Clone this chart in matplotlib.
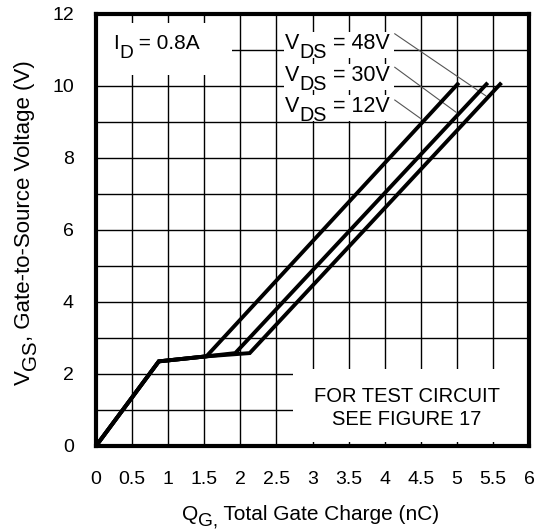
import numpy as np
import matplotlib
matplotlib.use("Agg")
import matplotlib.pyplot as plt
from matplotlib.patches import Rectangle
from matplotlib.transforms import offset_copy

plt.rcParams["font.family"] = ["Liberation Sans", "DejaVu Sans"]
plt.rcParams["xtick.labelsize"] = 14
plt.rcParams["ytick.labelsize"] = 14

# gate charge curves (Q_G in nC, V_GS in V)
qg_12v = [0.0, 0.87, 1.53, 5.01]
vgs_12v = [0.0, 2.35, 2.49, 10.05]
qg_30v = [0.0, 0.87, 1.53, 1.93, 5.41]
vgs_30v = [0.0, 2.35, 2.49, 2.58, 10.05]
qg_48v = [0.0, 0.87, 1.53, 2.13, 5.60]
vgs_48v = [0.0, 2.35, 2.49, 2.58, 10.05]

vds_values = ["48V", "30V", "12V"]
label_y = [11.03, 10.15, 9.27]
leader_start_y = [11.45, 10.52, 9.61]
leader_end = [(5.40, 9.73), (4.99, 9.27), (4.51, 9.08)]

fig = plt.figure(figsize=(5.44, 5.32), dpi=100)
ax = fig.add_axes([0.1765, 0.1617, 0.7959, 0.812])
renderer = fig.canvas.get_renderer()


def rich_text(x, y, parts, size, transform, rotation=0, drop=0.42, zorder=4):
    # parts: list of (string, is_subscript); subscripts nearly full size, lowered
    adv = 0.0
    for s, sub in parts:
        fs = size * 0.92 if sub else size
        dn = -size * drop if sub else 0.0
        if rotation == 0:
            dx, dy = adv, dn
        else:
            dx, dy = -dn, adv
        tr = offset_copy(transform, fig=fig, x=dx, y=dy, units="points")
        t = fig.text(x, y, s, fontsize=fs, transform=tr, rotation=rotation,
                     rotation_mode="anchor", ha="left", va="baseline", zorder=zorder)
        bb = t.get_window_extent(renderer)
        adv += (bb.width if rotation == 0 else bb.height) * 72 / fig.dpi


ax.set_xlim(0, 6)
ax.set_ylim(0, 12)
ax.set_xticks(np.arange(0, 6.01, 0.5))
ax.set_xticklabels(["0", "0.5", "1", "1.5", "2", "2.5", "3", "3.5", "4", "4.5", "5", "5.5", "6"])
ax.set_yticks(np.arange(0, 12.1, 2))
ax.set_yticks(np.arange(1, 12, 2), minor=True)
ax.tick_params(which="both", length=0)
ax.tick_params(axis="x", pad=18)
ax.tick_params(axis="y", pad=16)
ax.grid(True, which="both", color="black", lw=1.0, zorder=1)
ax.set_axisbelow(True)
for s in ax.spines.values():
    s.set_linewidth(3)
    s.set_zorder(10)

# white boxes hiding the grid behind the notes
ax.add_patch(Rectangle((0.02, 10.3), 1.86, 1.45, facecolor="white", edgecolor="none", zorder=2))
ax.add_patch(Rectangle((2.73, 0.1), 3.26, 2.05, facecolor="white", edgecolor="none", zorder=2))

for q, v in [(qg_12v, vgs_12v), (qg_30v, vgs_30v), (qg_48v, vgs_48v)]:
    ax.plot(q, v, color="black", lw=2.8, zorder=5, solid_joinstyle="miter")

for val, y, ys, (xe, ye) in zip(vds_values, label_y, leader_start_y, leader_end):
    ax.add_patch(Rectangle((2.6, y - 0.25), 1.53, 0.72, facecolor="white", edgecolor="none", zorder=2))
    rich_text(2.62, y, [("V", False), ("DS", True), (" = " + val, False)], 15.5, ax.transData)
    ax.plot([4.14, xe], [ys, ye], color="#555555", lw=0.8, zorder=3)

rich_text(0.24, 11.03, [("I", False), ("D", True), (" = 0.8A", False)], 15, ax.transData)
ax.text(4.31, 1.23, "FOR TEST CIRCUIT", ha="center", va="baseline", fontsize=14.5, zorder=4)
ax.text(4.31, 0.585, "SEE FIGURE 17", ha="center", va="baseline", fontsize=14.5, zorder=4)

# axis titles
rich_text(0.3346, 0.0226, [("Q", False), ("G,", True), (" Total Gate Charge (nC)", False)],
          15, fig.transFigure, drop=0.28)
rich_text(0.0555, 0.2763, [("V", False), ("GS", True), (", Gate-to-Source Voltage (V)", False)],
          16, fig.transFigure, rotation=90, drop=0.28)

fig.savefig("out.png", dpi=100)
